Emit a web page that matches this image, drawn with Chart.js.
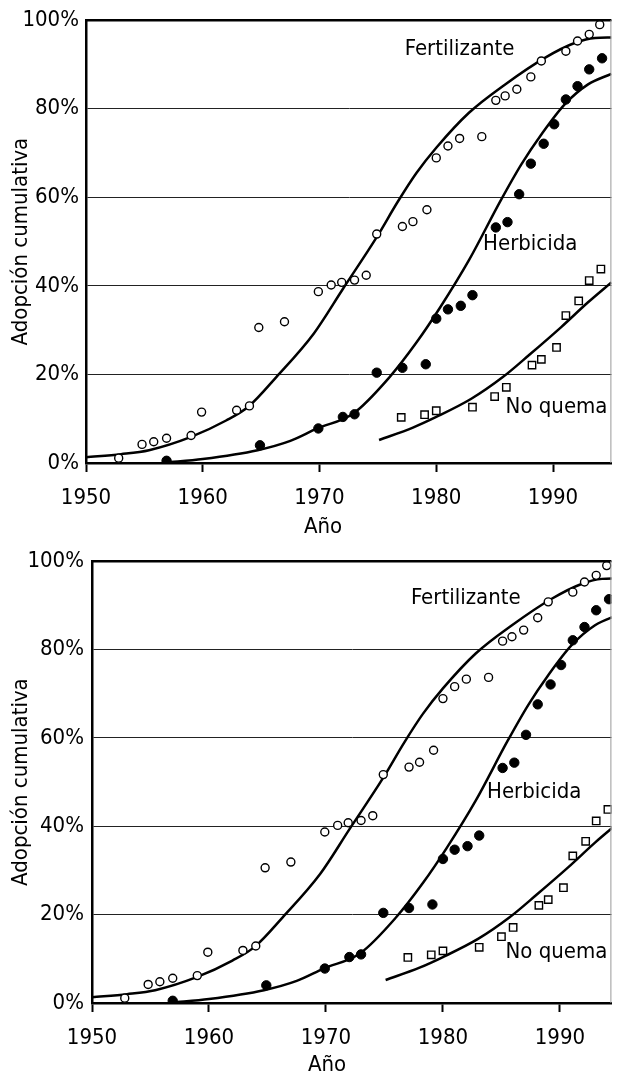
<!DOCTYPE html>
<html>
<head>
<meta charset="utf-8">
<script src="https://cdn.jsdelivr.net/npm/chart.js@4.4.1/dist/chart.umd.min.js"></script>
<style>
  html, body { margin: 0; padding: 0; background: #fff; }
  body { width: 618px; height: 1076px; position: relative; overflow: hidden; }
  canvas { position: absolute; left: 0; }
  #c1 { top: 0; }
  #c2 { top: 540px; }
</style>
</head>
<body>
<canvas id="c1" width="618" height="540" style="width:618px;height:540px"></canvas>
<canvas id="c2" width="618" height="536" style="width:618px;height:536px"></canvas>
<script>
var FONT = '"Liberation Sans Narrow", "DejaVu Sans Condensed", "Roboto Condensed", "Arial Narrow", sans-serif';
var FONT_SIZE = 22;

// ejes
var xTicks = [1950, 1960, 1970, 1980, 1990];
var yTicks = [0, 20, 40, 60, 80, 100];
var seriesNames = ["Fertilizante", "Herbicida", "No quema"];

// Fertilizante - observados (círculos abiertos)
var fertYears = [1952.8, 1954.8, 1955.8, 1956.9, 1959, 1959.9, 1962.9, 1964, 1964.8, 1967, 1969.9, 1971, 1971.9, 1973, 1974, 1974.9, 1977.1, 1978, 1979.2, 1980, 1981, 1982, 1983.9, 1985.1, 1985.9, 1986.9, 1988.1, 1989, 1991.1, 1992.1, 1993.1, 1994];
var fertValues = [1.1, 4.2, 4.8, 5.6, 6.2, 11.5, 11.9, 12.9, 30.6, 31.9, 38.7, 40.2, 40.8, 41.3, 42.4, 51.7, 53.4, 54.5, 57.2, 68.9, 71.6, 73.3, 73.7, 81.9, 82.9, 84.4, 87.2, 90.8, 93.0, 95.3, 96.8, 99.0];

// Herbicida - observados (círculos llenos)
var herbYears = [1956.9, 1964.9, 1969.9, 1972, 1973, 1974.9, 1977.1, 1979.1, 1980, 1981, 1982.1, 1983.1, 1985.1, 1986.1, 1987.1, 1988.1, 1989.2, 1990.1, 1991.1, 1992.1, 1993.1, 1994.2];
var herbValues = [0.5, 4.0, 7.8, 10.4, 11.0, 20.4, 21.5, 22.3, 32.6, 34.7, 35.5, 37.9, 53.2, 54.4, 60.7, 67.6, 72.1, 76.5, 82.1, 85.1, 88.9, 91.4];

// No quema - observados (cuadrados abiertos)
var nqYears = [1977, 1979, 1980, 1983.1, 1985, 1986, 1988.2, 1989, 1990.3, 1991.1, 1992.2, 1993.1, 1994.1];
var nqValues = [10.3, 10.9, 11.8, 12.6, 15.0, 17.1, 22.1, 23.4, 26.1, 33.3, 36.6, 41.2, 43.8];

// curvas ajustadas
var fertCurveYears = [1950, 1953, 1955.4, 1959, 1962, 1963.9, 1966.3, 1969.5, 1972, 1974.9, 1976.7, 1978.3, 1980, 1982.8, 1985.9, 1989.3, 1991.9, 1993.6, 1995];
var fertCurveValues = [1.3, 2.0, 2.9, 5.9, 9.6, 12.7, 19.4, 29.2, 39.3, 51.0, 59.0, 65.5, 71.2, 79.1, 85.5, 91.5, 94.9, 96.0, 96.1];
var herbCurveYears = [1956.8, 1960, 1964.7, 1967.5, 1969.8, 1972.9, 1976, 1978.3, 1980.3, 1982.8, 1985.5, 1987.3, 1989, 1991, 1993, 1995];
var herbCurveValues = [0.1, 0.9, 2.9, 5.0, 7.8, 11.2, 19.4, 27.2, 35.0, 45.8, 59.2, 67.5, 74.2, 81.0, 85.5, 87.9];
var nqCurveYears = [1975.1, 1978, 1980, 1983, 1985.7, 1988, 1990.7, 1993, 1995];
var nqCurveValues = [5.2, 8.0, 10.4, 14.5, 19.4, 24.5, 30.7, 36.3, 40.8];

function pares(xs, ys) {
    return xs.map(function (x, i) { return { x: x, y: ys[i] }; });
}

function curva(xs, ys) {
    return {
        data: pares(xs, ys),
        showLine: true,
        pointRadius: 0,
        borderColor: "#000",
        borderWidth: 2.5,
        cubicInterpolationMode: "monotone",
        order: 2,
    };
}

function puntos(xs, ys, estilo, radio, relleno, borde) {
    return {
        data: pares(xs, ys),
        showLine: false,
        pointStyle: estilo,
        pointRadius: radio,
        pointBackgroundColor: relleno,
        pointBorderColor: "#000",
        pointBorderWidth: borde,
        order: 1,
    };
}

function crearGrafico(id, L) {
    // marco superior/derecho y rótulos
    var notas = {
        id: "notas",
        afterDraw: function (chart) {
            var ctx = chart.ctx;
            var a = chart.chartArea;
            var sx = chart.scales.x, sy = chart.scales.y;
            ctx.save();
            ctx.strokeStyle = "#000";
            ctx.lineWidth = 2.5;
            ctx.beginPath();
            ctx.moveTo(a.left - 1, a.top);
            ctx.lineTo(a.right, a.top);
            ctx.stroke();
            ctx.strokeStyle = "#999";
            ctx.lineWidth = 1;
            ctx.beginPath();
            ctx.moveTo(a.right - 0.5, a.top);
            ctx.lineTo(a.right - 0.5, a.bottom);
            ctx.stroke();

            ctx.fillStyle = "#000";
            ctx.font = FONT_SIZE + "px " + FONT;
            ctx.textAlign = "center";
            ctx.textBaseline = "middle";
            seriesNames.forEach(function (nombre, i) {
                var p = L.labels[i];
                ctx.fillText(nombre, sx.getPixelForValue(p[0]), sy.getPixelForValue(p[1]));
            });
            ctx.fillText("Año", L.xTitle[0], L.xTitle[1]);
            ctx.restore();
        },
    };

    return new Chart(document.getElementById(id), {
        type: "scatter",
        data: {
            datasets: [
                curva(fertCurveYears, fertCurveValues),
                curva(herbCurveYears, herbCurveValues),
                curva(nqCurveYears, nqCurveValues),
                puntos(fertYears, fertValues, "circle", 4, "#fff", 1.4),
                puntos(herbYears, herbValues, "circle", 4.7, "#000", 1),
                puntos(nqYears, nqValues, "rect", 5.2, "#fff", 1.4),
            ],
        },
        options: {
            responsive: false,
            animation: false,
            layout: { padding: L.padding },
            plugins: {
                legend: { display: false },
                tooltip: { enabled: false },
            },
            scales: {
                x: {
                    type: "linear",
                    min: 1950,
                    max: L.xMax,
                    afterBuildTicks: function (s) {
                        s.ticks = xTicks.map(function (v) { return { value: v }; });
                    },
                    afterFit: function (s) { s.height = L.xHeight; },
                    grid: {
                        drawOnChartArea: false,
                        drawTicks: true,
                        tickLength: 9,
                        tickWidth: 2,
                        tickColor: "#000",
                    },
                    border: { display: true, color: "#000", width: 2.5 },
                    ticks: {
                        color: "#000",
                        font: { family: FONT, size: FONT_SIZE },
                        padding: 13,
                        maxRotation: 0,
                        callback: function (v) { return String(v); },
                    },
                },
                y: {
                    min: 0,
                    max: 100,
                    afterBuildTicks: function (s) {
                        s.ticks = yTicks.map(function (v) { return { value: v }; });
                    },
                    afterFit: function (s) { s.width = L.yWidth; },
                    grid: { color: "#222", lineWidth: 1, drawTicks: false },
                    border: { display: true, color: "#000", width: 2.5 },
                    ticks: {
                        color: "#000",
                        font: { family: FONT, size: FONT_SIZE },
                        padding: L.yPad,
                        callback: function (v) { return v + "%"; },
                    },
                    title: {
                        display: true,
                        text: "Adopción cumulativa",
                        color: "#000",
                        font: { family: FONT, size: FONT_SIZE },
                        padding: { top: 8, bottom: 0 },
                    },
                },
            },
        },
        plugins: [notas],
    });
}

crearGrafico("c1", {
    padding: { top: 19, right: 1, bottom: 0, left: 0 },
    yWidth: 86,
    xHeight: 77,
    xMax: 1995,
    yPad: 7,
    labels: [[1982.0, 93.5], [1988.05, 49.5], [1990.3, 12.6]],
    xTitle: [323, 527],
});

crearGrafico("c2", {
    padding: { top: 16, right: 1, bottom: 0, left: 0 },
    yWidth: 92,
    xHeight: 73,
    xMax: 1994.4,
    yPad: 8,
    labels: [[1981.95, 91.5], [1987.8, 47.7], [1989.7, 11.4]],
    xTitle: [327, 525],
});
</script>
</body>
</html>
